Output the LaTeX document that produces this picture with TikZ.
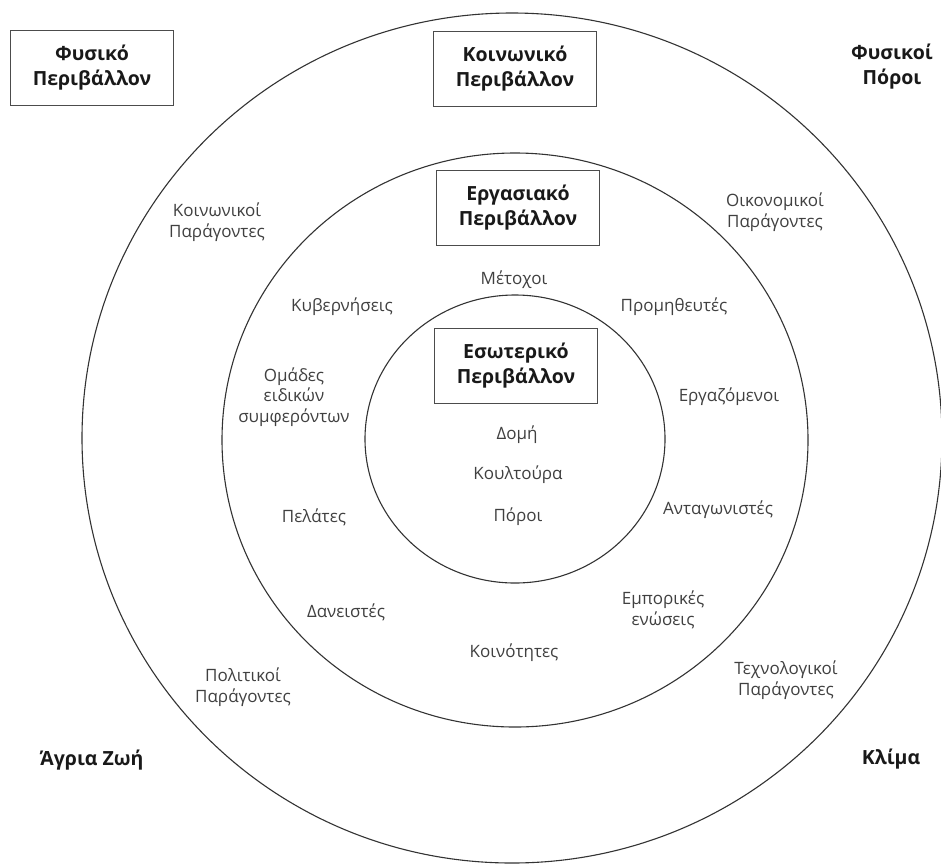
\documentclass[tikz,border=0pt]{standalone}
\usepackage{fontspec}
\setmainfont{Open Sans}
\begin{document}
\begin{tikzpicture}[x=1pt,y=-1pt,
  ring/.style={draw=black!80, line width=1.1pt},
  heading/.style={font=\fontsize{19.5}{25}\selectfont\bfseries, align=center, text=black!90, inner sep=0pt},
  headbox/.style={heading, draw=black!70, line width=1.1pt, minimum width=163pt, minimum height=75pt},
  factor/.style={font=\fontsize{17}{20.5}\selectfont, align=center, text=black!75, inner sep=0pt}]
\useasboundingbox (0,0) rectangle (941,863);
\fill[white] (0,0) rectangle (941,863);

% three nested environment rings
\draw[ring] (512,438) ellipse [x radius=430, y radius=425];
\draw[ring] (515,440) ellipse [x radius=293, y radius=287];
\draw[ring] (515,439) ellipse [x radius=150, y radius=144];

% boxed titles
\node[headbox] (fysiko) at (92,68) {Φυσικό\\Περιβάλλον};
\node[headbox] (koinoniko) at (515,69) {Κοινωνικό\\Περιβάλλον};
\node[headbox] (ergasiako) at (518,208) {Εργασιακό\\Περιβάλλον};
\node[headbox] (esoteriko) at (516,366) {Εσωτερικό\\Περιβάλλον};

% corner titles
\node[heading] (poroi) at (892,67) {Φυσικοί\\Πόροι};
\node[heading] (agria) at (92,760) {Άγρια Ζωή};
\node[heading] (klima) at (891,759) {Κλίμα};

% general environment factors
\node[factor] (koinfact) at (217,222) {Κοινωνικοί\\Παράγοντες};
\node[factor] (oikfact) at (775,212) {Οικονομικοί\\Παράγοντες};
\node[factor] (polfact) at (243,687) {Πολιτικοί\\Παράγοντες};
\node[factor] (techfact) at (786,680) {Τεχνολογικοί\\Παράγοντες};

% task environment actors
\node[factor] (metochoi) at (514,280) {Μέτοχοι};
\node[factor] (kyvern) at (342,307) {Κυβερνήσεις};
\node[factor] (prom) at (674,307) {Προμηθευτές};
\node[factor] (omades) at (294,397) {Ομάδες\\ειδικών\\συμφερόντων};
\node[factor] (ergaz) at (729,397) {Εργαζόμενοι};
\node[factor] (pelates) at (314,517) {Πελάτες};
\node[factor] (antag) at (718,510) {Ανταγωνιστές};
\node[factor] (daneist) at (346,612) {Δανειστές};
\node[factor] (empor) at (663,610) {Εμπορικές\\ενώσεις};
\node[factor] (koinot) at (514,653) {Κοινότητες};

% internal environment
\node[factor] (domi) at (517,435) {Δομή};
\node[factor] (koultoura) at (518,475) {Κουλτούρα};
\node[factor] (poroiint) at (518,517) {Πόροι};
\end{tikzpicture}
\end{document}
